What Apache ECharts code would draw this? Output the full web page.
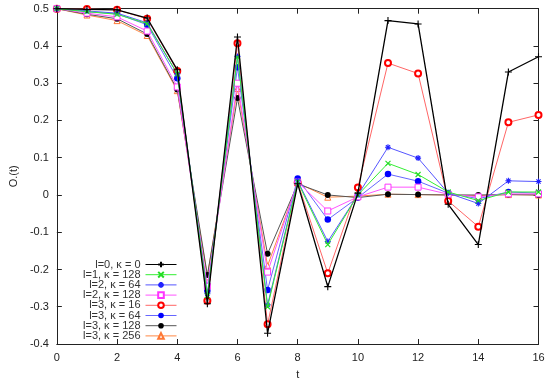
<!DOCTYPE html>
<html><head><meta charset="utf-8">
<script src="https://cdn.jsdelivr.net/npm/echarts@6/dist/echarts.min.js"></script>
<style>html,body{margin:0;padding:0;background:#fff}#c{width:550px;height:385px}</style>
</head><body><div id="c"></div>
<script>
const tValues = [0,1,2,3,4,5,6,7,8,9,10,11,12,13,14,15,16];
const seriesNames = ["l=0, κ = 0","l=1, κ = 128","l=2, κ = 64","l=2, κ = 128","l=3, κ = 16","l=3, κ = 64","l=3, κ = 128","l=3, κ = 256"];
const s_l0_k0    = [0.5,0.498,0.497,0.475,0.336,-0.292,0.424,-0.371,0.030,-0.246,0.005,0.468,0.459,-0.025,-0.133,0.330,0.371];
const s_l1_k128  = [0.5,0.492,0.485,0.460,0.325,-0.270,0.370,-0.300,0.035,-0.133,0.000,0.085,0.055,0.008,-0.015,0.008,0.008];
const s_l2_k64   = [0.5,0.494,0.488,0.462,0.325,-0.265,0.372,-0.295,0.038,-0.125,0.000,0.128,0.099,0.005,-0.023,0.038,0.036];
const s_l2_k128  = [0.5,0.488,0.478,0.440,0.290,-0.245,0.300,-0.207,0.035,-0.043,-0.005,0.021,0.021,0.002,-0.005,0.003,0.003];
const s_l3_k16   = [0.5,0.499,0.497,0.473,0.333,-0.284,0.407,-0.347,0.033,-0.210,0.020,0.354,0.326,-0.016,-0.085,0.195,0.215];
const s_l3_k64   = [0.5,0.492,0.486,0.457,0.313,-0.257,0.343,-0.255,0.044,-0.066,-0.007,0.056,0.037,0.005,-0.010,0.008,0.005];
const s_l3_k128  = [0.5,0.485,0.473,0.432,0.283,-0.215,0.260,-0.158,0.030,0.000,-0.007,0.002,0.001,0.000,0.000,0.001,0.000];
const s_l3_k256  = [0.5,0.483,0.468,0.428,0.280,-0.220,0.286,-0.190,0.032,-0.006,-0.003,0.002,0.001,0.000,-0.002,0.001,0.000];
const xTicks = [0,2,4,6,8,10,12,14,16];
const yTicks = [-0.4,-0.3,-0.2,-0.1,0,0.1,0.2,0.3,0.4,0.5];

const allData = [s_l0_k0,s_l1_k128,s_l2_k64,s_l2_k128,s_l3_k16,s_l3_k64,s_l3_k128,s_l3_k256];
const PLUS = 'path://M5,0L5,10M0,5L10,5';
const CROSS = 'path://M0,0L10,10M10,0L0,10';
const STAR = 'path://M5,0L5,10M0,5L10,5M1.5,1.5L8.5,8.5M8.5,1.5L1.5,8.5';
const styles = [
  {line:'#000000', mark:'#000000', symbol:PLUS, size:7, fill:'none', bw:1.1, lw:1.3},
  {line:'#33ee33', mark:'#22dd22', symbol:CROSS, size:5, fill:'none', bw:1.1, lw:1},
  {line:'#5555ff', mark:'#2222ff', symbol:STAR, size:6, fill:'none', bw:1.1, lw:1},
  {line:'#ff55ff', mark:'#ff33ff', symbol:'rect', size:6, fill:'#ffffff', bw:1, lw:1},
  {line:'#ff6666', mark:'#ff0000', symbol:'circle', size:6, fill:'#ffffff', bw:2, lw:1},
  {line:'#6666ff', mark:'#0000ff', symbol:'circle', size:6.5, fill:'#0000ff', bw:0, lw:1},
  {line:'#555555', mark:'#000000', symbol:'circle', size:6, fill:'#000000', bw:0, lw:1},
  {line:'#ff8844', mark:'#ff7733', symbol:'triangle', size:6, fill:'#ffffff', bw:1, lw:1}
];
const font = 'Liberation Sans, Arial, sans-serif';
const series = seriesNames.map((n,i)=>({
  name:n, type:'line', data: tValues.map((t,j)=>[t, allData[i][j]]),
  symbol: styles[i].symbol, symbolSize: styles[i].size, showAllSymbol:true,
  lineStyle:{color:styles[i].line, width:styles[i].lw},
  itemStyle: styles[i].fill==='none'
    ? {color:'none', borderColor:styles[i].mark, borderWidth:styles[i].bw}
    : {color:styles[i].fill, borderColor:styles[i].mark, borderWidth:styles[i].bw},
  emphasis:{disabled:true}, animation:false, z: 10 - i
}));

const chart = echarts.init(document.getElementById('c'), null, {renderer:'canvas'});
const axisCommon = {
  axisLine:{onZero:false, lineStyle:{color:'#222', width:1}},
  axisTick:{inside:true, length:5, lineStyle:{color:'#222'}},
  splitLine:{show:false}
};
chart.setOption({
  animation:false,
  textStyle:{fontFamily:font},
  grid:{left:55.5, right:11.5, top:8.7, bottom:34.5, containLabel:false},
  legend:{
    orient:'vertical', align:'right', right:373, top:259, padding:0,
    itemGap:-0.8, itemWidth:31, itemHeight:7,
    lineStyle:{width:1},
    textStyle:{fontSize:11, color:'#333', fontFamily:font, lineHeight:10.7},
    data: seriesNames, selectedMode:false
  },
  xAxis:[
    Object.assign({type:'value', min:0, max:16, interval:2, name:'t', nameLocation:'middle', nameGap:25,
      nameTextStyle:{fontSize:11, color:'#222'},
      axisLabel:{fontSize:11, color:'#222', margin:8}}, axisCommon),
    Object.assign({type:'value', min:0, max:16, interval:2, position:'top', axisLabel:{show:false}}, axisCommon)
  ],
  yAxis:[
    Object.assign({type:'value', min:-0.4, max:0.5, interval:0.1, name:'O.(t)', nameLocation:'middle', nameGap:30,
      nameTextStyle:{fontSize:11, color:'#222'},
      axisLabel:{fontSize:11, color:'#222', margin:8, formatter:v=>{const r=Math.round(v*10)/10; return r===0?'0':String(r);}}}, axisCommon),
    Object.assign({type:'value', min:-0.4, max:0.5, interval:0.1, position:'right', axisLabel:{show:false}}, axisCommon)
  ],
  series: series
});
</script></body></html>
